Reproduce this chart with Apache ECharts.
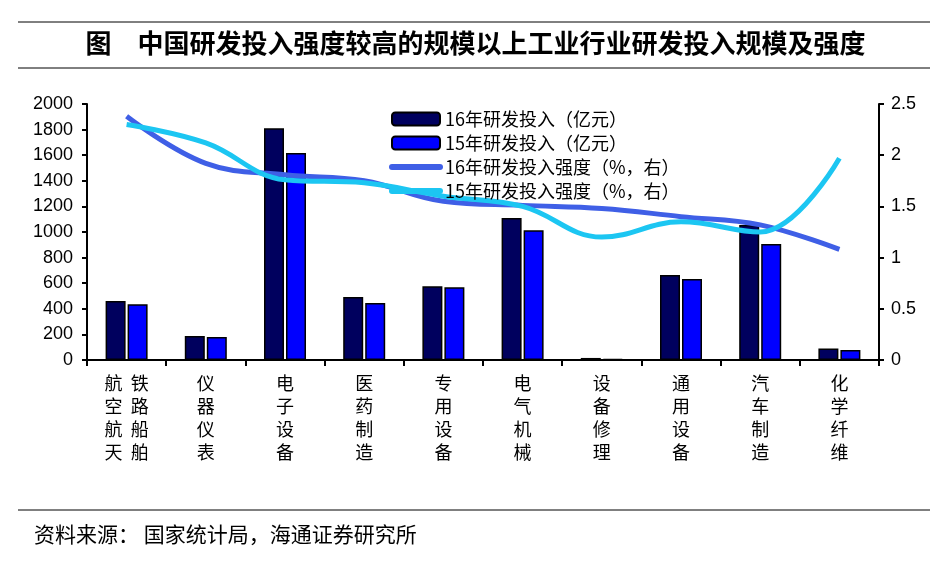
<!DOCTYPE html>
<html><head><meta charset="utf-8">
<script src="https://cdn.jsdelivr.net/npm/echarts@6/dist/echarts.min.js"></script>
<style>html,body{margin:0;padding:0;background:#fff}#c{width:951px;height:566px}</style>
</head><body><div id="c"></div>
<script>
var categories = ['航空航天 铁路船舶','仪器仪表','电子设备','医药制造','专用设备','电气机械','设备修理','通用设备','汽车制造','化学纤维'];
var rd16 = [461, 187, 1810, 492, 576, 1109, 16, 664, 1055, 89];
var rd15 = [435, 180, 1617, 445, 568, 1013, 8, 633, 906, 78];
var int16 = [2.38, 1.92, 1.81, 1.75, 1.55, 1.51, 1.48, 1.40, 1.32, 1.08];
var int15 = [2.30, 2.12, 1.76, 1.73, 1.60, 1.50, 1.20, 1.35, 1.25, 1.97];
var leftTicks = {min: 0, max: 2000, interval: 200};
var rightTicks = {min: 0, max: 2.5, interval: 0.5};
var names = ['16年研发投入（亿元）','15年研发投入（亿元）','16年研发投入强度（%，右）','15年研发投入强度（%，右）'];
var titleText = '图　中国研发投入强度较高的规模以上工业行业研发投入规模及强度';
var sourceText = '资料来源： 国家统计局，海通证券研究所';

var chart = echarts.init(document.getElementById('c'));
var axisFont = {fontFamily: 'Liberation Sans, Arial', fontSize: 18, color: '#000'};
function vert(s){
  if (s.indexOf(' ') >= 0) {
    var p = s.split(' ');
    var out = [];
    for (var i = 0; i < p[0].length; i++) out.push(p[0][i] + '  ' + p[1][i]);
    return out.join('\n');
  }
  return s.split('').join('\n');
}
var c16 = '#3F5FE6', c15 = '#1CC6F2';
chart.setOption({
  animation: false,
  backgroundColor: '#fff',
  title: {
    text: titleText, left: 'center', top: 25,
    textStyle: {fontFamily: 'Noto Sans CJK SC', fontSize: 26, fontWeight: 'bold', color: '#000'}
  },
  graphic: [
    {type: 'line', shape: {x1: 18, y1: 22, x2: 930, y2: 22}, style: {stroke: '#000', lineWidth: 1}},
    {type: 'line', shape: {x1: 18, y1: 68, x2: 930, y2: 68}, style: {stroke: '#000', lineWidth: 1}},
    {type: 'line', shape: {x1: 18, y1: 510, x2: 930, y2: 510}, style: {stroke: '#000', lineWidth: 1}},
    {type: 'text', left: 34, top: 524, style: {text: sourceText, font: '21px "Noto Sans CJK SC"', fill: '#000'}}
  ],
  legend: {
    orient: 'vertical', left: 384, top: 105, itemWidth: 48, itemHeight: 13, itemGap: 6,
    textStyle: {fontFamily: 'Noto Sans CJK SC', fontSize: 18, color: '#000'},
    data: [
      {name: names[0]},
      {name: names[1]},
      {name: names[2], itemStyle: {color: 'rgba(0,0,0,0)', borderWidth: 0}, lineStyle: {width: 6, cap: 'round', color: c16}},
      {name: names[3], itemStyle: {color: 'rgba(0,0,0,0)', borderWidth: 0}, lineStyle: {width: 6, cap: 'round', color: c15}}
    ]
  },
  grid: {left: 87, right: 72, top: 104, bottom: 206},
  xAxis: {
    type: 'category', data: categories,
    axisLine: {lineStyle: {color: '#000', width: 2}},
    axisTick: {show: true, length: 6, lineStyle: {color: '#000', width: 2}},
    axisLabel: {interval: 0, formatter: vert, fontFamily: 'Noto Sans CJK SC', fontSize: 18, lineHeight: 23, color: '#000', margin: 12}
  },
  yAxis: [
    {type: 'value', min: leftTicks.min, max: leftTicks.max, interval: leftTicks.interval,
     axisLine: {show: true, lineStyle: {color: '#000', width: 2}},
     axisTick: {show: true, length: 5, lineStyle: {color: '#000', width: 2}},
     splitLine: {show: false}, axisLabel: Object.assign({margin: 14, formatter: function(v){return String(v);}}, axisFont)},
    {type: 'value', min: rightTicks.min, max: rightTicks.max, interval: rightTicks.interval,
     axisLine: {show: true, lineStyle: {color: '#000', width: 2}},
     axisTick: {show: true, length: 5, lineStyle: {color: '#000', width: 2}},
     splitLine: {show: false}, axisLabel: Object.assign({margin: 12, formatter: function(v){return String(v);}}, axisFont)}
  ],
  series: [
    {name: names[0], type: 'bar', data: rd16, barWidth: 20, barGap: '10%',
     itemStyle: {color: '#00005E', borderColor: '#000', borderWidth: 1.5}},
    {name: names[1], type: 'bar', data: rd15, barWidth: 20, barGap: '10%',
     itemStyle: {color: '#0000FF', borderColor: '#000', borderWidth: 1.5}},
    {name: names[2], type: 'line', yAxisIndex: 1, data: int16, smooth: 0.4, symbol: 'none',
     lineStyle: {color: c16, width: 5}, itemStyle: {color: c16}},
    {name: names[3], type: 'line', yAxisIndex: 1, data: int15, smooth: 0.4, symbol: 'none',
     lineStyle: {color: c15, width: 5}, itemStyle: {color: c15}}
  ]
});
</script></body></html>
